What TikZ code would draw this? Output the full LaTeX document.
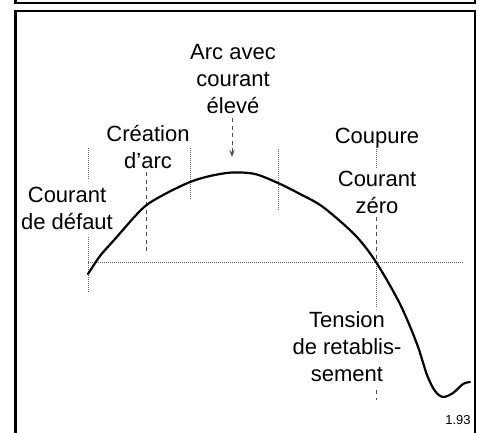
\documentclass[tikz,border=0pt]{standalone}
\usepackage{fontspec}
\setmainfont{Liberation Sans}
\usetikzlibrary{arrows.meta}
\begin{document}
\begin{tikzpicture}[x=1pt,y=-1pt,
  lbl/.style={font=\fontsize{22}{27}\selectfont, align=center, inner sep=0pt},
  frame/.style={line width=2.5pt},
  fine/.style={draw=black!60, line width=1pt, dash pattern=on 1pt off 1pt},
  dsh/.style={draw=black!70, line width=1pt, dash pattern=on 4pt off 3.5pt},
  curve/.style={line width=2.2pt, line join=round, line cap=round}]
\useasboundingbox (0,0) rectangle (479,432);
% frames
\draw[frame] (15.3,0) -- (15.3,3) -- (475,3) -- (475,0);
\draw[frame] (15.3,433) -- (15.3,11.2) -- (475,11.2) -- (475,433);
% labels
\node[lbl] (arc) at (233,79.5) {Arc avec\\courant\\élevé};
\node[lbl] (crea) at (148,147) {Création\\d{\char"27}arc};
\node[lbl] (defaut) at (67,208) {Courant\\de défaut};
\node[lbl, anchor=base] (coup) at (377,143.4) {Coupure};
\node[lbl] (zero) at (377,192) {Courant\\zéro};
\node[lbl] (tens) at (347,347) {Tension\\de retablis-\\sement};
\node[font=\fontsize{13}{15}\selectfont, anchor=base, inner sep=0pt] (fig) at (458,424) {1.93};
% coordinates
\coordinate (b0) at (88,262);
\coordinate (b1) at (463,262);
\coordinate (za) at (88,148);
\coordinate (zb) at (88,180);
\coordinate (zc) at (88,237);
\coordinate (zd) at (88,293);
\coordinate (ca) at (146,172);
\coordinate (cb) at (146,253);
\coordinate (ea) at (190,148);
\coordinate (eb) at (190,200);
\coordinate (fa) at (278,149);
\coordinate (fb) at (278,210);
\coordinate (aa) at (232,118);
\coordinate (ab) at (232,157);
\coordinate (ua) at (376,147);
\coordinate (ub) at (376,168);
\coordinate (uc) at (376,217);
\coordinate (ud) at (376,262);
\coordinate (ue) at (376,308);
\coordinate (uf) at (376,390);
\coordinate (ug) at (376,400);
% guides
\draw[fine] (b0) -- (b1);
\draw[fine] (za) -- (zb);
\draw[fine] (zc) -- (zd);
\draw[dsh] (ca) -- (cb);
\draw[fine] (ea) -- (eb);
\draw[fine] (fa) -- (fb);
\draw[dsh, -{Stealth[length=7pt,width=5pt]}] (aa) -- (ab);
\draw[fine] (ua) -- (ub);
\draw[dsh] (uc) -- (ud);
\draw[fine] (ud) -- (ue);
\draw[dsh] (uf) -- (ug);
% curve
\draw[curve] plot[smooth, tension=0.5] coordinates {(88,274) (100,256) (115,239) (143,208) (165,194) (190,182) (210,176) (232,172.5) (255,174) (278,183) (300,194) (323,207) (355,235) (376,262) (400,304) (417,344) (427,375) (435,391) (443,397) (453,393) (463,384) (470,382)};
\end{tikzpicture}
\end{document}
